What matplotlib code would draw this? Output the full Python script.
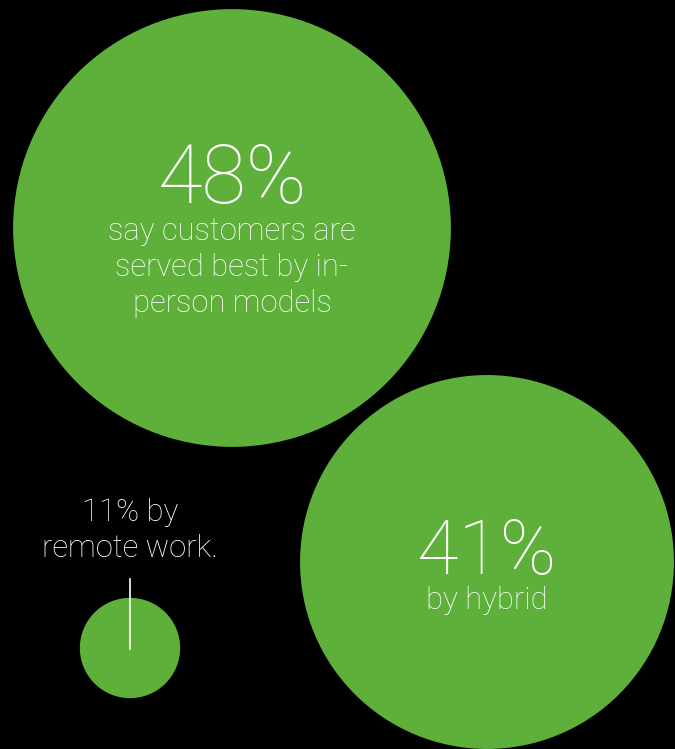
import matplotlib
matplotlib.use("Agg")
import matplotlib.pyplot as plt
from matplotlib.patches import Circle

# survey shares (percent) and their captions
shares = [48, 41, 11]
big_labels = ["48%", "41%", None]
captions = [
  "say customers are\nserved best by in-\nperson models",
  "by hybrid",
  "11% by\nremote work.",
]

GREEN = "#5eb03b"
BG = "#000000"
PX_PER_PCT = 4.56  # circle radius in px per percentage point
LINE_STEP = 36     # caption line pitch, px

# where each bubble sits (pixel coords, y down)
centers = [(232, 228), (487, 562), (130, 648)]

W, H = 675, 749
fig = plt.figure(figsize=(W / 100, H / 100), dpi=100, facecolor=BG)
ax = fig.add_axes([0, 0, 1, 1])
ax.set_xlim(0, W)
ax.set_ylim(H, 0)
ax.set_aspect("equal")
ax.axis("off")
ax.set_facecolor(BG)

font = dict(family=["Roboto", "DejaVu Sans"], fontweight="light", color="white")


def caption(x, y, txt, size=22.3):
  # one text per line so the baselines land where they should
  for i, line in enumerate(txt.split("\n")):
    ax.text(x, y + i * LINE_STEP, line, ha="center", va="baseline",
            fontsize=size, zorder=3, **font)


for (cx, cy), pct in zip(centers, shares):
  ax.add_patch(Circle((cx, cy), pct * PX_PER_PCT, color=GREEN, lw=0, zorder=1))

# 48% bubble
cx, cy = centers[0]
ax.text(cx, cy - 25, big_labels[0], ha="center", va="baseline", fontsize=58.5, zorder=3, **font)
caption(cx, cy + 12, captions[0])

# 41% bubble
cx, cy = centers[1]
ax.text(cx, cy + 12, big_labels[1], ha="center", va="baseline", fontsize=54.5, zorder=3, **font)
caption(cx, cy + 47, captions[1])

# 11% bubble with a callout line above
cx, cy = centers[2]
ax.plot([cx, cx], [cy - 69, cy + 1], color="white", lw=1.2, zorder=3)
caption(cx, cy - 127, captions[2])

fig.savefig("out.png", dpi=100, facecolor=BG)
